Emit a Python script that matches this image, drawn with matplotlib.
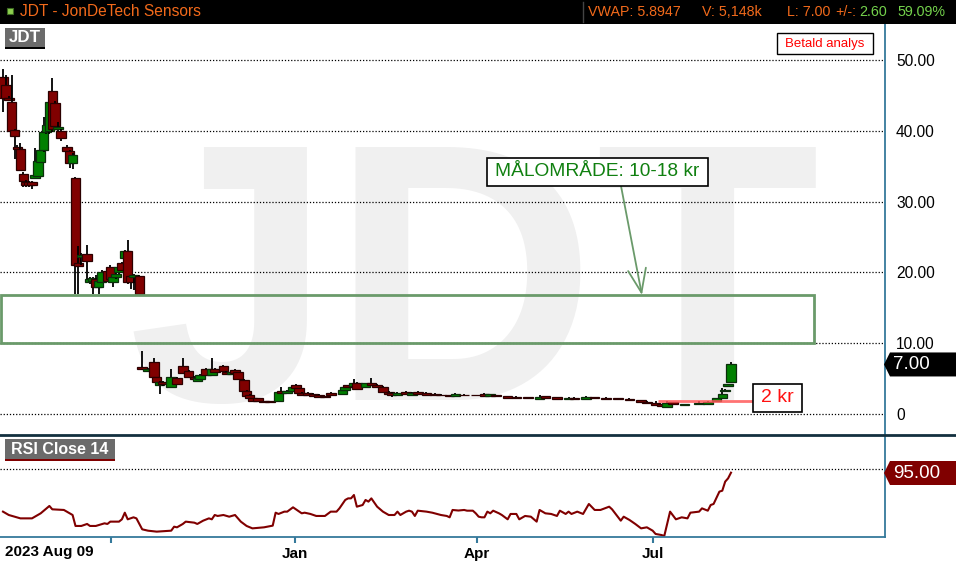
import matplotlib
matplotlib.use('Agg')
import matplotlib.pyplot as plt
from matplotlib.patches import Rectangle
from matplotlib.path import Path
from matplotlib.lines import Line2D
from matplotlib.transforms import blended_transform_factory

plt.rcParams['font.family'] = ['Liberation Sans', 'DejaVu Sans']

# trading day index (0 = 2023-08-09) and OHLC
days = [0, 1, 2, 3, 4, 5, 6, 7, 8, 9, 10, 11, 12, 13, 14, 15, 16, 17, 18, 19,
        20, 22, 23, 24, 25, 26, 27, 29, 30, 31, 32, 33, 34, 36, 37, 38, 39, 40,
        41, 42, 43, 44, 45, 47,
        48, 50, 52, 53, 54, 55, 58, 60, 62, 64, 66, 67, 68, 70, 72, 73, 76, 77,
        79, 80, 81, 83, 84, 85, 86, 88, 90, 92, 95, 96, 98, 100, 101, 102, 103,
        105, 107, 109, 111, 113, 117, 118, 119, 121, 122, 125, 127, 129, 131,
        133, 134, 136, 139, 141, 143, 146, 149, 151, 154, 156, 159, 163, 166,
        168, 170, 174, 177, 181, 185, 187, 191, 195, 197, 201, 204, 208, 212,
        216, 220, 222, 225, 227, 229, 231, 235, 240, 243, 246, 248, 249, 250, 251]
opens = [47.6, 46.5, 44.7, 44.0, 40.1, 37.7, 37.4, 33.9, 32.8, 32.7, 32.7, 33.3, 33.6, 35.6, 37.3, 39.8, 40.0, 45.6, 43.9, 40.2,
         39.9, 37.7, 37.1, 35.4, 33.3, 21.3, 22.2, 22.6, 18.6, 18.8, 19.1, 18.0, 18.7, 20.2, 20.8, 18.6, 19.3, 20.0,
         21.3, 22.1, 23.0, 19.5, 19.4, 19.5,
         6.64, 6.1, 7.3, 5.18, 4.1, 4.47, 3.86, 5.13, 6.83, 6.07, 5.27, 4.66, 4.94, 6.36, 5.5, 6.36, 6.83, 5.98,
         5.6, 6.17, 5.88, 4.8, 3.3, 2.68, 2.21, 2.21, 1.84, 1.84, 1.88, 3.3, 2.97, 3.3, 4.1, 3.63, 3.01,
         3.0, 2.82, 2.68, 2.54, 3.0, 2.82, 3.39, 4.05, 3.95, 4.43, 3.77, 4.43, 4.14, 3.86,
         3.15, 3.0, 2.73, 3.1, 2.73, 3.1, 3.0, 2.82, 2.75, 2.68, 2.54, 2.73, 2.7, 2.82,
         2.49, 2.64, 2.49, 2.45, 2.4, 2.12, 2.49, 2.4, 2.12, 2.31, 2.12, 2.4, 2.31, 2.26,
         2.16, 2.0, 1.74, 1.55, 1.36, 1.04, 1.65, 1.3, 1.36, 1.46, 1.84, 2.21, 3.25, 4.0, 4.56]
highs = [48.7, 47.9, 44.9, 47.9, 40.3, 38.0, 38.3, 34.2, 33.0, 32.9, 32.9, 37.5, 37.0, 39.8, 41.9, 41.5, 44.5, 47.4, 44.2, 41.3,
         40.2, 38.0, 37.3, 36.8, 33.5, 23.7, 22.8, 23.8, 19.3, 19.4, 19.6, 19.3, 20.3, 20.6, 21.0, 19.5, 20.0, 21.0,
         21.5, 23.2, 24.6, 19.7, 19.8, 19.6,
         8.9, 6.5, 7.86, 5.3, 4.6, 4.6, 6.36, 5.3, 7.86, 6.2, 5.4, 5.1, 5.6, 6.5, 7.86, 6.5, 6.9, 6.1,
         6.1, 6.3, 6.0, 4.9, 3.4, 2.8, 2.3, 2.3, 1.9, 1.9, 3.2, 3.86, 3.4, 3.9, 4.2, 3.7, 3.1,
         3.1, 2.9, 2.8, 2.6, 3.1, 3.4, 3.9, 4.1, 4.9, 4.5, 4.4, 5.04, 4.2, 3.9,
         3.2, 3.1, 3.05, 3.2, 3.05, 3.2, 3.05, 2.9, 2.8, 2.75, 2.9, 2.8, 2.75, 2.9,
         2.85, 2.7, 2.55, 2.5, 2.45, 2.73, 2.55, 2.45, 2.35, 2.35, 2.6, 2.45, 2.35, 2.3,
         2.2, 2.05, 1.8, 1.9, 1.4, 1.9, 1.7, 1.4, 1.9, 1.8, 2.3, 3.63, 3.6, 4.3, 7.3]
lows = [42.6, 44.3, 44.2, 39.8, 36.0, 37.2, 34.3, 32.0, 32.0, 32.1, 31.8, 33.2, 33.5, 35.4, 37.0, 39.5, 39.5, 39.8, 40.3, 39.6,
        38.5, 37.0, 34.7, 34.6, 16.9, 16.9, 21.0, 19.1, 18.4, 17.0, 17.8, 17.0, 18.5, 18.6, 18.9, 18.0, 19.0, 19.8,
        20.2, 21.9, 18.3, 17.7, 17.5, 16.9,
        6.2, 5.9, 5.0, 4.3, 2.8, 3.9, 3.7, 4.1, 5.6, 5.1, 4.8, 4.5, 4.9, 5.4, 5.4, 5.9, 6.0, 5.5,
        5.5, 5.7, 4.9, 3.2, 2.5, 2.1, 1.8, 1.7, 1.5, 1.5, 1.8, 2.9, 2.9, 3.2, 3.5, 2.9, 2.6,
        2.6, 2.4, 2.35, 2.25, 2.6, 2.7, 3.3, 3.7, 3.9, 3.4, 3.7, 3.9, 3.7, 3.1,
        2.75, 2.45, 2.6, 2.75, 2.6, 2.75, 2.6, 2.6, 2.55, 2.45, 2.5, 2.55, 2.55, 2.45,
        2.45, 2.45, 2.15, 2.15, 2.15, 2.05, 2.15, 2.05, 2.05, 2.1, 2.05, 2.15, 2.1, 2.0,
        1.85, 1.65, 1.45, 1.2, 1.0, 1.0, 1.3, 1.25, 1.3, 1.4, 1.8, 2.1, 3.2, 3.95, 4.5]
closes = [44.7, 44.6, 44.4, 40.0, 39.2, 37.4, 34.5, 32.9, 32.4, 32.4, 32.4, 33.7, 35.7, 37.3, 39.8, 40.8, 44.0, 40.2, 40.7, 40.6,
          39.0, 37.2, 35.5, 36.6, 21.0, 20.9, 22.5, 21.6, 19.1, 19.2, 18.0, 18.8, 20.0, 18.8, 19.1, 19.3, 19.8, 20.8,
          20.4, 23.0, 18.6, 18.6, 19.6, 17.0,
          6.36, 6.4, 5.18, 4.47, 4.47, 4.19, 5.18, 4.24, 5.74, 5.27, 4.9, 5.04, 5.5, 5.5, 6.36, 5.98, 6.07, 5.6,
          5.98, 5.79, 4.94, 3.3, 2.59, 2.21, 1.84, 1.79, 1.65, 1.7, 3.15, 3.0, 3.3, 3.77, 3.65, 3.01, 2.68,
          2.7, 2.54, 2.45, 2.35, 2.68, 3.39, 3.86, 3.77, 4.43, 3.48, 4.33, 4.05, 3.77, 3.15,
          2.82, 2.68, 3.0, 2.82, 3.0, 2.82, 2.73, 2.68, 2.65, 2.54, 2.82, 2.63, 2.62, 2.54,
          2.78, 2.5, 2.21, 2.21, 2.21, 2.4, 2.21, 2.12, 2.31, 2.17, 2.4, 2.21, 2.17, 2.07,
          1.93, 1.74, 1.51, 1.27, 1.08, 1.51, 1.36, 1.36, 1.55, 1.74, 2.21, 2.78, 3.44, 4.19, 7.0]

rsi_day = [0, 2, 6, 10, 13, 16, 17, 21, 24, 25, 27, 29, 30, 32, 35, 36, 37, 40, 41, 42, 43, 45, 46, 48,
           50, 53, 58, 59, 60, 62, 63, 66, 67, 69, 71, 72, 73, 74, 76, 78, 80, 82, 84, 86, 90, 93, 94,
           95, 97, 98, 100, 101, 103, 104, 106, 108, 111, 113, 115, 116, 118, 119, 120, 121, 122, 124,
           125, 126, 127, 129, 131, 133, 135, 136, 137, 139, 140, 141, 142, 143, 146, 148, 151, 153,
           154, 155, 157, 159, 160, 162, 163, 164, 165, 166, 167, 168, 169, 171, 172, 174, 175, 177,
           178, 180, 182, 184, 185, 187, 189, 191, 192, 194, 195, 196, 198, 200, 202, 204, 206, 209,
           210, 213, 214, 216, 218, 220, 222, 224, 225, 227, 228, 230, 232, 234, 236, 237, 240, 241,
           243, 244, 245, 247, 248, 249, 250, 251]
rsi_val = [46.7, 42.5, 38.3, 38.3, 44.6, 53.8, 49.6, 48.8, 42.5, 28.8, 28.8, 31.3, 28.8, 28.8, 32.1, 31.3, 34.2, 34.2, 37.1, 45.4, 37.1, 39.6, 38.3, 24.6,
           22.9, 21.7, 22.9, 27.9, 27.1, 31.3, 34.2, 32.9, 31.3, 35.4, 38.3, 37.1, 42.5, 41.3, 42.5, 40.4, 42.5, 34.2, 28.8, 25.8, 27.1, 29.2, 45.4,
           43.8, 46.7, 46.7, 52.1, 49.6, 44.6, 45.4, 43.8, 41.3, 41.3, 46.7, 46.7, 50.8, 61.3, 63.3, 63.3, 67.5, 52.9, 55.0,
           61.3, 59.2, 63.3, 52.9, 46.7, 42.5, 42.5, 46.7, 42.5, 46.7, 47.9, 46.7, 41.3, 47.9, 46.7, 45.4, 42.5, 41.3,
           39.6, 48.8, 48.1, 48.8, 47.9, 47.9, 44.6, 40.4, 39.6, 39.6, 46.7, 44.6, 47.9, 44.6, 42.5, 37.1, 43.8, 43.8,
           37.1, 41.3, 40.4, 34.2, 48.8, 44.6, 43.8, 41.3, 47.9, 43.8, 46.7, 43.8, 46.7, 43.8, 56.3, 48.8, 48.8, 52.9,
           49.6, 35.4, 40.4, 36.3, 31.3, 25.8, 27.1, 22.9, 18.8, 17.5, 16.3, 46.7, 37.1, 39.6, 38.3, 45.4, 46.7, 50.8,
           47.9, 55.0, 56.3, 71.7, 72.9, 84.2, 88.3, 95.4]

price_ticks = [0, 10, 20, 30, 40, 50]
price_labels = ['0', '10.00', '20.00', '30.00', '40.00', '50.00']
month_days = [37.2, 100.7, 163.4, 224.2]
month_labels = ['', 'Jan', 'Apr', 'Jul']

zone_low, zone_high, zone_end = 10, 16.8, 279.7
support_level, support_start, support_end = 1.88, 226, 258.6
last_price = 7.00
last_rsi = 95.0

W, H = 956, 565
teal = '#35799b'


def fx(x):
    return x / W


def fy(y):
    return 1 - y / H


def tag_style(x0, y0, width, height, mutation_size):
    # price tag: flat box with a point on the left, running to the figure edge
    left = x0 - 3
    right = x0 + width + 40
    mid = y0 + height / 2
    return Path([(left, mid - 12), (right, mid - 12), (right, mid + 12),
                 (left, mid + 12), (left - 6, mid), (left, mid - 12)], closed=True)


fig = plt.figure(figsize=(W / 100, H / 100), dpi=100)
fig.patch.set_facecolor('white')

ax = fig.add_axes([0, fy(434), fx(885), (434 - 24) / H])
rsi_ax = fig.add_axes([0, fy(537), fx(885), (537 - 437) / H])

for a in (ax, rsi_ax):
    a.set_facecolor('none')
    for s in a.spines.values():
        s.set_visible(False)
    a.spines['right'].set_visible(True)
    a.spines['right'].set_color(teal)
    a.spines['right'].set_linewidth(1.3)
    a.set_xlim(-1.03, 304.1)

# watermark
ax.text(fx(127), fy(400), 'JDT', transform=fig.transFigure, fontsize=264,
        fontweight='bold', color='#f0f0f0', ha='left', va='baseline', zorder=0)

ax.set_ylim(-2.82, 55.08)
ax.yaxis.tick_right()
ax.set_yticks(price_ticks)
ax.set_yticklabels(price_labels)
ax.tick_params(axis='y', length=0, pad=8, labelsize=11.2)
ax.set_xticks([])
ax.grid(axis='y', color='black', linestyle=(0, (1, 1.5)), linewidth=0.9)

# candles, drawn one by one so later days sit on top
for k, (d, o, h, l, c) in enumerate(zip(days, opens, highs, lows, closes)):
    up = c >= o
    z = 3 + k * 0.01
    ax.vlines(d, l, h, color='black', lw=1.3, zorder=z)
    ax.bar(d, max(abs(c - o), 0.1), bottom=min(o, c), width=3.3,
           color='#008000' if up else '#800000',
           edgecolor='#0b2e0b' if up else '#2b0000', lw=0.9, zorder=z + 0.005)

# target zone and support line
ax.add_patch(Rectangle((-0.7, zone_low), zone_end + 0.7, zone_high - zone_low,
                       fill=False, edgecolor='#6a9a6a', lw=2, zorder=6))
ax.hlines(support_level, support_start, support_end, color='#ff5a5a', lw=2,
          alpha=0.85, zorder=7)
ax.annotate('', xy=(220.3, zone_high), xytext=(fx(621), fy(186)),
            textcoords='figure fraction',
            arrowprops=dict(arrowstyle='->,head_length=1.7,head_width=0.65',
                            color='#6a9a6a', lw=1.3, shrinkA=0, shrinkB=0,
                            mutation_scale=10), zorder=7)

ytag = blended_transform_factory(ax.transAxes, ax.transData)
ax.text(fx(893) / fx(885), last_price, f'{last_price:.2f}', transform=ytag,
        ha='left', va='center', color='white', fontsize=13.5, clip_on=False,
        bbox=dict(boxstyle=tag_style, fc='black', ec='none'), zorder=10)

# RSI panel
rsi_ax.spines['bottom'].set_visible(True)
rsi_ax.spines['bottom'].set_color(teal)
rsi_ax.spines['bottom'].set_linewidth(1.3)
rsi_ax.set_ylim(15, 140)
rsi_ax.set_yticks([])
rsi_ax.axhline(100, color='black', linestyle=(0, (1, 1.5)), linewidth=0.9)
rsi_ax.plot(rsi_day, rsi_val, color='#800000', lw=1.5)
rsi_ax.set_xticks(month_days)
rsi_ax.set_xticklabels(month_labels, fontweight='bold', fontsize=11)
rsi_ax.tick_params(axis='x', length=4, width=1.5, color=teal, labelcolor='black', pad=3)
rtag = blended_transform_factory(rsi_ax.transAxes, rsi_ax.transData)
rsi_ax.text(fx(893) / fx(885), last_rsi, f'{last_rsi:.2f}', transform=rtag,
            ha='left', va='center', color='white', fontsize=13.5, clip_on=False,
            bbox=dict(boxstyle=tag_style, fc='#800000', ec='none'), zorder=10)

fig.text(fx(5), fy(552), '2023 Aug 09', fontweight='bold', fontsize=11,
         ha='left', va='center')

# panel separator
fig.add_artist(Line2D([0, 1], [fy(435), fy(435)], color='#13303f', lw=2,
                      transform=fig.transFigure, zorder=5))


def px_box(x0, y0, x1, y1, **kw):
    fig.add_artist(Rectangle((fx(x0), fy(y1)), (x1 - x0) / W, (y1 - y0) / H,
                             transform=fig.transFigure, zorder=8, **kw))


# header bar
px_box(0, 0, W, 24, facecolor='black', edgecolor='none')
px_box(7, 8, 13, 14, facecolor='#8ed04f', edgecolor='#3d6b22', lw=0.8)
orange = '#f26a1b'
green = '#74d24c'
fig.text(fx(20), fy(12), 'JDT - JonDeTech Sensors', color=orange, fontsize=11.2,
         va='center', ha='left', zorder=9)
fig.add_artist(Line2D([fx(583), fx(583)], [fy(2), fy(22)], color='#444444', lw=1,
                      transform=fig.transFigure, zorder=9))
for txt, x, col in [('VWAP: 5.8947', 588, orange), ('V: 5,148k', 702, orange),
                    ('L: 7.00', 787, orange), ('+/-:', 835, orange),
                    ('2.60', 859, green), ('59.09%', 897, green)]:
    fig.text(fx(x), fy(12), txt, color=col, fontsize=10.3, va='center', ha='left', zorder=9)

# panel labels
px_box(5, 28, 45, 48, facecolor='#6b6b6b', edgecolor='none')
px_box(5, 47, 45, 49, facecolor='black', edgecolor='none')
fig.text(fx(25), fy(38), 'JDT', color='white', fontweight='bold', fontsize=12.2,
         ha='center', va='center', zorder=9)
px_box(5, 439, 115, 459, facecolor='#6b6b6b', edgecolor='none')
px_box(5, 459, 115, 461, facecolor='#800000', edgecolor='none')
fig.text(fx(60), fy(449), 'RSI Close 14', color='white', fontweight='bold',
         fontsize=11.5, ha='center', va='center', zorder=9)

# annotation boxes
px_box(777, 33, 873, 54, facecolor='white', edgecolor='black', lw=1)
fig.text(fx(825), fy(43.5), 'Betald analys', color='red', fontsize=9.5,
         ha='center', va='center', zorder=9)
px_box(487, 158, 708, 186, facecolor='white', edgecolor='black', lw=1.2)
fig.text(fx(597.5), fy(172), 'MÅLOMRÅDE: 10-18 kr', color='#108010', fontsize=13.8,
         ha='center', va='center', zorder=9)
px_box(753, 384, 802, 412, facecolor='white', edgecolor='black', lw=1.2)
fig.text(fx(777.5), fy(398), '2 kr', color='#ff1010', fontsize=14,
         ha='center', va='center', zorder=9)

fig.savefig('out.png', dpi=100)
